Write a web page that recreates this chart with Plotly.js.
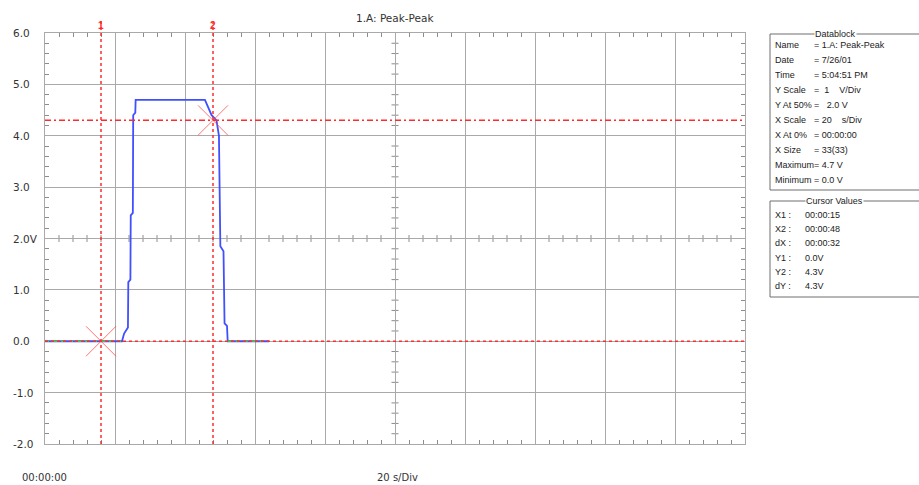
<!DOCTYPE html>
<html>
<head>
<meta charset="utf-8">
<script src="https://cdn.plot.ly/plotly-3.0.1.min.js"></script>
<style>html,body{margin:0;padding:0;background:#fff;}#chart{width:919px;height:485px;}</style>
</head>
<body>
<div id="chart"></div>
<script>
// ---- data ----
const timeSec = [0,2,4,6,8,10,12,14,16,18,20,22,22.6,23.7,23.8,24.4,24.5,25.1,25.2,25.8,25.9,
  28,30,32,34,36,38,40,42,44,45.7,47.6,49.0,49.7,50.1,51.0,51.3,52.0,52.2,54,56,58,60,62,64];
const volts   = [0,0,0,0,0,0,0,0,0,0,0,0,0.15,0.27,1.15,1.2,2.45,2.5,4.4,4.45,4.7,
  4.7,4.7,4.7,4.7,4.7,4.7,4.7,4.7,4.7,4.7,4.4,4.3,4.0,1.85,1.75,0.35,0.3,0,0,0,0,0,0,0];
const cursorX = [16, 48];
const cursorY = [0.0, 4.3];
const cursorNames = ["1", "2"];
const yTickVals = [-2,-1,0,1,2,3,4,5,6];
const yTickText = ["-2.0","-1.0","0.0","1.0","2.0V","3.0","4.0","5.0","6.0"];
const chartTitle = "1.A: Peak-Peak";
const xStartLabel = "00:00:00";
const xScaleLabel = "20 s/Div";
const dbTitle = "Datablock";
const dbLabels = ["Name","Date","Time","Y Scale","Y At 50%","X Scale","X At 0%","X Size","Maximum","Minimum"];
const dbValues = ["= 1.A: Peak-Peak","= 7/26/01","= 5:04:51 PM","=  1    V/Div","=   2.0 V","= 20    s/Div","= 00:00:00","= 33(33)","= 4.7 V","= 0.0 V"];
const cvTitle = "Cursor Values";
const cvLabels = ["X1 :","X2 :","dX :","Y1 :","Y2 :","dY :"];
const cvValues = ["00:00:15","00:00:48","00:00:32","0.0V","4.3V","4.3V"];

// ---- axis settings ----
const xMin = 0, xMax = 200, xDiv = 20, xSub = 4;
const yMin = -2, yMax = 6, yDiv = 1, ySub = 0.2;
const xMid = (xMin + xMax) / 2, yMid = (yMin + yMax) / 2;

// ---- geometry helpers (pixel -> paper) ----
const L = 45, R = 745, T = 33, B = 444;
const px = x => (x - L) / (R - L);
const py = y => (B - y) / (B - T);

const gridCol = '#a9a9a9';
const tickCol = '#8c8c8c';
const red = '#ff2b2b';

const traces = [
  {x: timeSec, y: volts, mode: 'lines', line: {color: '#4050ff', width: 1.8}, hoverinfo: 'skip', showlegend: false},
  {x: timeSec, y: volts.map(v => v === 0 ? 0 : null), mode: 'lines', connectgaps: false,
   line: {color: '#38d038', width: 1.6, dash: '4px,4px'}, hoverinfo: 'skip', showlegend: false},
  {x: cursorX, y: cursorY, mode: 'markers', marker: {symbol: 'x-thin-open', size: 30, color: 'rgba(255,70,70,0.75)', line: {width: 1, color: 'rgba(255,70,70,0.75)'}},
   hoverinfo: 'skip', showlegend: false}
];

const shapes = [];
// minor ticks crossing the centre gridlines
const halfTickX = 3.5 * (xMax - xMin) / (R - L);
const halfTickY = 3.5 * (yMax - yMin) / (B - T);
const nX = Math.round((xMax - xMin) / xSub);
for (let i = 1; i < nX; i++) {
  if (i % Math.round(xDiv / xSub) === 0) continue;
  const t = xMin + i * xSub;
  shapes.push({type: 'line', xref: 'x', yref: 'y', x0: t, x1: t, y0: yMid - halfTickY, y1: yMid + halfTickY, line: {color: tickCol, width: 1}, layer: 'below'});
}
const nY = Math.round((yMax - yMin) / ySub);
for (let i = 1; i < nY; i++) {
  if (i % Math.round(yDiv / ySub) === 0) continue;
  const v = yMin + i * ySub;
  shapes.push({type: 'line', xref: 'x', yref: 'y', x0: xMid - halfTickX, x1: xMid + halfTickX, y0: v, y1: v, line: {color: tickCol, width: 1}, layer: 'below'});
}

cursorX.forEach(cx => shapes.push({type: 'line', xref: 'x', yref: 'paper', x0: cx, x1: cx, y0: 0, y1: py(18),
  line: {color: red, width: 1.5, dash: '3px,3px'}}));
shapes.push({type: 'line', xref: 'paper', yref: 'y', x0: 0, x1: 1, y0: cursorY[0], y1: cursorY[0],
  line: {color: red, width: 1.4, dash: '3px,3px'}});
shapes.push({type: 'line', xref: 'paper', yref: 'y', x0: 0, x1: 1, y0: cursorY[1], y1: cursorY[1],
  line: {color: red, width: 1.5, dash: '6px,3px,2px,3px'}});

// datablock boxes
const boxCol = '#6f6f6f';
function box(top, bottom) {
  shapes.push({type: 'line', xref: 'paper', yref: 'paper', x0: px(770), x1: px(930), y0: py(top), y1: py(top), line: {color: boxCol, width: 1}});
  shapes.push({type: 'line', xref: 'paper', yref: 'paper', x0: px(770), x1: px(770), y0: py(top), y1: py(bottom), line: {color: boxCol, width: 1}});
  shapes.push({type: 'line', xref: 'paper', yref: 'paper', x0: px(770), x1: px(930), y0: py(bottom), y1: py(bottom), line: {color: boxCol, width: 1}});
}
box(34, 190);
box(201, 297);

const txtFont = {family: 'Liberation Sans, Arial, sans-serif', size: 9, color: '#222'};
const annotations = [];
yTickText.forEach((t, i) => annotations.push({xref: 'paper', yref: 'y', x: px(11), y: yTickVals[i], text: t,
  showarrow: false, xanchor: 'left', yanchor: 'middle', font: {family: 'DejaVu Sans, sans-serif', size: 10.5, color: '#333'}}));
cursorX.forEach((cx, i) => annotations.push({xref: 'x', yref: 'paper', x: cx, y: py(25), text: '<b>' + cursorNames[i] + '</b>',
  showarrow: false, xanchor: 'center', yanchor: 'middle', font: {family: 'Liberation Sans, sans-serif', size: 10, color: red}}));
annotations.push({xref: 'paper', yref: 'paper', x: px(395), y: py(18), text: chartTitle, showarrow: false,
  xanchor: 'center', yanchor: 'middle', font: {family: 'DejaVu Sans, sans-serif', size: 10.5, color: '#333'}});
annotations.push({xref: 'paper', yref: 'paper', x: px(20), y: py(477), text: xStartLabel, showarrow: false,
  xanchor: 'left', yanchor: 'middle', font: {family: 'DejaVu Sans, sans-serif', size: 10, color: '#333'}});
annotations.push({xref: 'paper', yref: 'paper', x: px(397), y: py(477), text: xScaleLabel, showarrow: false,
  xanchor: 'center', yanchor: 'middle', font: {family: 'DejaVu Sans, sans-serif', size: 10, color: '#333'}});
annotations.push({xref: 'paper', yref: 'paper', x: px(836), y: py(34), text: dbTitle, showarrow: false, bgcolor: '#fff',
  xanchor: 'center', yanchor: 'middle', borderpad: 0, font: txtFont});
annotations.push({xref: 'paper', yref: 'paper', x: px(834), y: py(201), text: cvTitle, showarrow: false, bgcolor: '#fff',
  xanchor: 'center', yanchor: 'middle', borderpad: 0, font: txtFont});
dbLabels.forEach((t, i) => {
  annotations.push({xref: 'paper', yref: 'paper', x: px(773), y: py(45 + i * 15), text: t, showarrow: false, xanchor: 'left', yanchor: 'middle', font: txtFont});
  annotations.push({xref: 'paper', yref: 'paper', x: px(812), y: py(45 + i * 15), text: dbValues[i], showarrow: false, xanchor: 'left', yanchor: 'middle', font: txtFont});
});
cvLabels.forEach((t, i) => {
  annotations.push({xref: 'paper', yref: 'paper', x: px(773), y: py(215 + i * 14.2), text: t, showarrow: false, xanchor: 'left', yanchor: 'middle', font: txtFont});
  annotations.push({xref: 'paper', yref: 'paper', x: px(803), y: py(215 + i * 14.2), text: cvValues[i], showarrow: false, xanchor: 'left', yanchor: 'middle', font: txtFont});
});

const layout = {
  width: 919, height: 485,
  margin: {l: L, r: 919 - R, t: T, b: 485 - B, pad: 0},
  paper_bgcolor: '#fff', plot_bgcolor: '#fff',
  showlegend: false,
  xaxis: {range: [xMin, xMax], dtick: xDiv, tick0: 0, showgrid: true, gridcolor: gridCol, gridwidth: 1, zeroline: false,
    showline: true, linecolor: gridCol, linewidth: 1, mirror: 'ticks', ticks: '', showticklabels: false,
    minor: {dtick: xSub, tick0: 0, ticks: 'inside', ticklen: 4, tickcolor: tickCol, showgrid: false}},
  yaxis: {range: [yMin, yMax], dtick: yDiv, tick0: 0, showgrid: true, gridcolor: gridCol, gridwidth: 1, zeroline: false,
    showline: true, linecolor: gridCol, linewidth: 1, mirror: 'ticks', ticks: '', showticklabels: false,
    minor: {dtick: ySub, tick0: 0, ticks: 'inside', ticklen: 4, tickcolor: tickCol, showgrid: false}},
  shapes: shapes,
  annotations: annotations
};

Plotly.newPlot('chart', traces, layout, {staticPlot: true, displayModeBar: false});
</script>
</body>
</html>
